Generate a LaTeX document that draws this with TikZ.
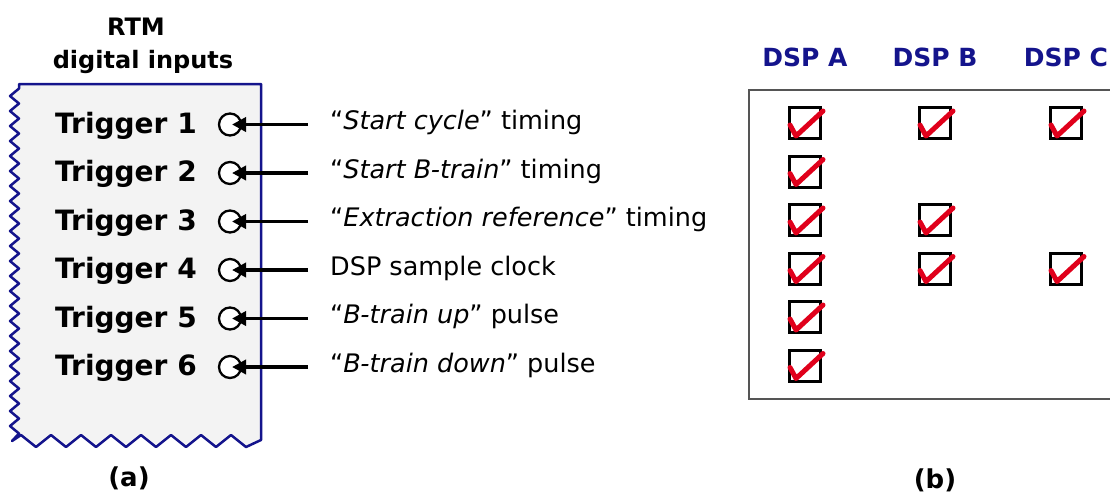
\documentclass[tikz,border=0pt]{standalone}
\usepackage{fontspec}
\setmainfont{DejaVu Sans}
\usetikzlibrary{arrows.meta}
\definecolor{navy}{HTML}{14148C}
\definecolor{panelgray}{HTML}{F3F3F3}
\definecolor{framegray}{HTML}{555555}
\definecolor{tickred}{HTML}{E0001B}
\begin{document}
\begin{tikzpicture}[x=1pt,y=-1pt,
  title/.style={font=\fontsize{24}{28}\selectfont\bfseries, anchor=base, inner sep=0},
  trig/.style={font=\fontsize{28}{32}\selectfont\bfseries, anchor=base west, inner sep=0},
  lbl/.style={font=\fontsize{25.5}{30}\selectfont, anchor=base west, inner sep=0},
  port/.style={circle, draw, line width=2.3pt, fill=white, minimum size=22pt, inner sep=0},
  feed/.style={line width=3.8pt, -{Triangle[length=14pt,width=14pt]}},
  hdr/.style={font=\fontsize{25}{30}\selectfont\bfseries, text=navy, anchor=base, inner sep=0},
  chkbox/.style={draw, line width=3pt, minimum size=31pt, inner sep=0},
  tick/.style={draw=tickred, line width=5pt, line cap=round, line join=round},
  caption/.style={font=\fontsize{26}{30}\selectfont\bfseries, anchor=base, inner sep=0},
  rtmbox/.style={draw=navy, fill=panelgray, line width=2.5pt, line join=round},
  panel/.style={draw=framegray, line width=2pt},
]
\useasboundingbox (0,0) rectangle (1110,501);

% (a) RTM board with torn left and bottom edges
\node[title] (rtm) at (136,35) {RTM};
\node[title] (din) at (143,68) {digital inputs};
\draw[rtmbox] (19,84) -- (261,84) -- (261,440)
  \foreach \k in {1,...,16} { -- ({261-15*\k},{435+12*mod(\k,2)}) }
  -- (12,441)
  \foreach \k in {1,...,47} { -- ({10+9*mod(\k,2)},{441-7.5*\k}) }
  -- cycle;

\foreach \i/\y/\txt in {
  1/124.5/{“\textit{Start cycle}” timing},
  2/173/{“\textit{Start B-train}” timing},
  3/221.5/{“\textit{Extraction reference}” timing},
  4/270/{DSP sample clock},
  5/318.5/{“\textit{B-train up}” pulse},
  6/367/{“\textit{B-train down}” pulse}}
{
  \node[trig] (trig\i) at (55,{\y+8.5}) {Trigger \i};
  \node[port] (port\i) at (230,\y) {};
  \coordinate (src\i) at (308,\y);
  \node[lbl] (lbl\i) at (330,{\y+5}) {\txt};
  \draw[feed] (src\i) -- ([xshift=2pt]port\i.center);
}
\node[caption] (capa) at (129,486) {(a)};

% (b) DSP assignment table
\draw[panel] (1112,90) -- (749,90) -- (749,399) -- (1112,399);
\node[hdr] (hdrA) at (805,66) {DSP A};
\node[hdr] (hdrB) at (935,66) {DSP B};
\node[hdr] (hdrC) at (1066,66) {DSP C};
\foreach \c/\x/\rows in {A/805/{1,2,3,4,5,6}, B/935/{1,3,4}, C/1066/{1,4}} {
  \foreach \r in \rows {
    \pgfmathsetmacro{\yy}{123+48.5*(\r-1)}
    \node[chkbox] (chk\c\r) at (\x,\yy) {};
    \draw[tick] ([shift={(-15,2)}]chk\c\r.center) -- ++(6,11) -- ++(27,-25);
  }
}
\node[caption] (capb) at (935,488) {(b)};
\end{tikzpicture}
\end{document}
